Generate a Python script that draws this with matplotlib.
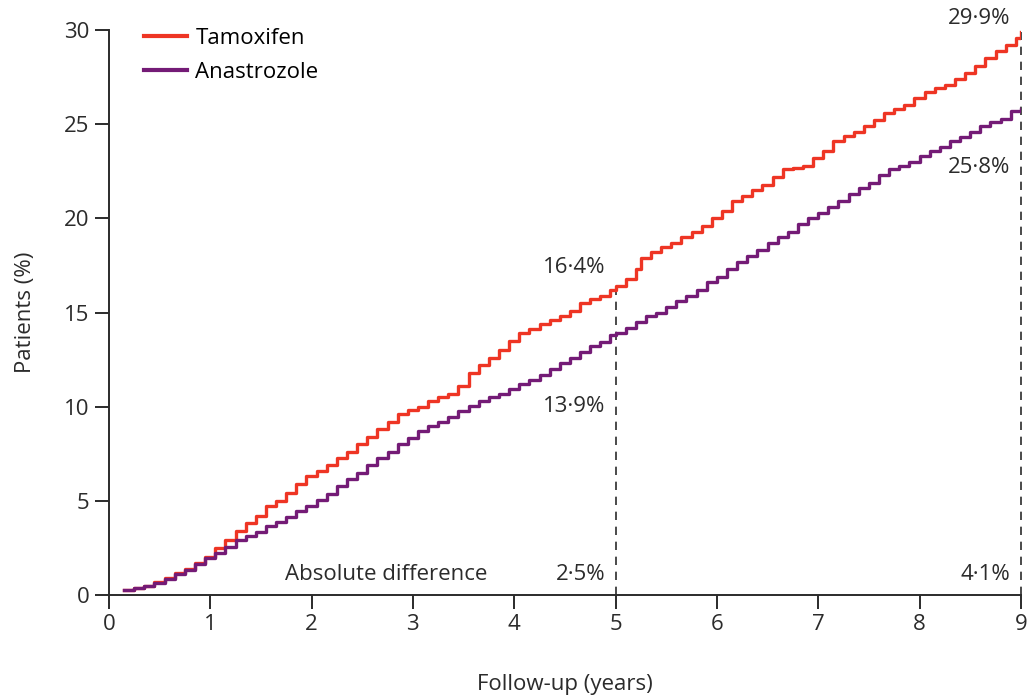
import numpy as np
import matplotlib.pyplot as plt

plt.rcParams['font.family'] = ['Open Sans', 'DejaVu Sans']

# cumulative incidence (%) by follow-up year, read at each event time
tam_years = [0.15, 0.25, 0.35, 0.45, 0.55, 0.65, 0.75, 0.85, 0.95, 1.05,
             1.15, 1.25, 1.35, 1.45, 1.55, 1.65, 1.75, 1.85, 1.95, 2.05,
             2.15, 2.25, 2.35, 2.45, 2.55, 2.65, 2.75, 2.85, 2.95, 3.05,
             3.15, 3.25, 3.35, 3.45, 3.55, 3.65, 3.75, 3.85, 3.95, 4.05,
             4.15, 4.25, 4.35, 4.45, 4.55, 4.65, 4.75, 4.85, 4.95, 5.0,
             5.1, 5.2, 5.25, 5.35, 5.45, 5.55, 5.65, 5.75, 5.85, 5.95,
             6.05, 6.15, 6.25, 6.35, 6.45, 6.55, 6.65, 6.75, 6.85, 6.95,
             7.05, 7.15, 7.25, 7.35, 7.45, 7.55, 7.65, 7.75, 7.85, 7.95,
             8.05, 8.15, 8.25, 8.35, 8.45, 8.55, 8.65, 8.75, 8.85, 8.95, 9.0]
tam_pct = [0.25, 0.35, 0.5, 0.7, 0.9, 1.15, 1.4, 1.7, 2.0, 2.5,
           2.9, 3.4, 3.8, 4.2, 4.7, 5.0, 5.4, 5.9, 6.3, 6.6,
           6.9, 7.3, 7.6, 8.0, 8.4, 8.8, 9.2, 9.6, 9.8, 10.0,
           10.3, 10.5, 10.7, 11.1, 11.8, 12.2, 12.6, 13.0, 13.5, 13.9,
           14.1, 14.4, 14.6, 14.8, 15.1, 15.5, 15.7, 15.9, 16.2, 16.4,
           16.8, 17.3, 17.9, 18.2, 18.5, 18.7, 19.0, 19.3, 19.6, 20.0,
           20.4, 20.9, 21.2, 21.5, 21.8, 22.2, 22.6, 22.7, 22.8, 23.2,
           23.6, 24.1, 24.4, 24.6, 24.9, 25.2, 25.6, 25.8, 26.0, 26.4,
           26.7, 26.9, 27.1, 27.4, 27.7, 28.1, 28.5, 28.9, 29.2, 29.6, 29.9]

ana_years = [0.15, 0.25, 0.35, 0.45, 0.55, 0.65, 0.75, 0.85, 0.95, 1.05,
             1.15, 1.25, 1.35, 1.45, 1.55, 1.65, 1.75, 1.85, 1.95, 2.05,
             2.15, 2.25, 2.35, 2.45, 2.55, 2.65, 2.75, 2.85, 2.95, 3.05,
             3.15, 3.25, 3.35, 3.45, 3.55, 3.65, 3.75, 3.85, 3.95, 4.05,
             4.15, 4.25, 4.35, 4.45, 4.55, 4.65, 4.75, 4.85, 4.95, 5.0,
             5.1, 5.2, 5.3, 5.4, 5.5, 5.6, 5.7, 5.8, 5.9, 6.0,
             6.1, 6.2, 6.3, 6.4, 6.5, 6.6, 6.7, 6.8, 6.9, 7.0,
             7.1, 7.2, 7.3, 7.4, 7.5, 7.6, 7.7, 7.8, 7.9, 8.0,
             8.1, 8.2, 8.3, 8.4, 8.5, 8.6, 8.7, 8.8, 8.9, 9.0]
ana_pct = [0.25, 0.35, 0.5, 0.65, 0.85, 1.1, 1.35, 1.65, 1.95, 2.25,
           2.55, 2.9, 3.15, 3.35, 3.65, 3.9, 4.15, 4.45, 4.75, 5.05,
           5.35, 5.8, 6.15, 6.5, 6.9, 7.25, 7.6, 8.0, 8.35, 8.7,
           8.95, 9.2, 9.45, 9.75, 10.05, 10.3, 10.5, 10.7, 10.95, 11.2,
           11.4, 11.7, 12.0, 12.3, 12.6, 12.9, 13.2, 13.45, 13.8, 13.9,
           14.2, 14.5, 14.8, 15.0, 15.3, 15.6, 15.9, 16.2, 16.6, 16.9,
           17.3, 17.7, 18.0, 18.3, 18.7, 19.0, 19.3, 19.7, 20.0, 20.3,
           20.6, 20.9, 21.3, 21.6, 21.9, 22.3, 22.6, 22.8, 23.0, 23.3,
           23.6, 23.8, 24.1, 24.3, 24.6, 24.9, 25.1, 25.3, 25.7, 25.8]

# values quoted at 5 and 9 years
mark_years = [5, 9]
mark_tam = [16.4, 29.9]
mark_ana = [13.9, 25.8]
mark_diff = [2.5, 4.1]

RED = '#ee3524'
PURPLE = '#741b76'
INK = '#2b2b2b'

def pct(v):
    return f'{v:.1f}'.replace('.', '\u00b7') + '%'

fig = plt.figure(figsize=(10.27, 7.0), dpi=100)
ax = fig.add_axes([0.106, 0.15, 0.888, 0.807])

ax.step(tam_years, tam_pct, where='post', color=RED, lw=2.4, label='Tamoxifen', zorder=3)
ax.step(ana_years, ana_pct, where='post', color=PURPLE, lw=2.4, label='Anastrozole', zorder=3)

for yr, top in zip(mark_years, mark_tam):
    ax.plot([yr, yr], [0, top], color=INK, lw=1.2, ls=(0, (5, 4)), zorder=2, clip_on=False)

fs = 16
# label offsets (in %) above the tamoxifen value and below the anastrozole value
tam_off = [1.0, 0.7]
ana_off = [3.9, 3.1]
for yr, a, b, d, ao, bo in zip(mark_years, mark_tam, mark_ana, mark_diff, tam_off, ana_off):
    ax.text(yr - 0.1, a + ao, pct(a), ha='right', va='center', fontsize=fs, color=INK)
    ax.text(yr - 0.1, b - bo, pct(b), ha='right', va='center', fontsize=fs, color=INK)
    ax.text(yr - 0.1, 1.1, pct(d), ha='right', va='center', fontsize=fs, color=INK)
ax.text(1.74, 1.1, 'Absolute difference', ha='left', va='center', fontsize=fs, color=INK)

ax.set_xlim(0, 9)
ax.set_ylim(0, 30)
ax.set_xticks(range(0, 10))
ax.set_yticks(range(0, 31, 5))
ax.spines['top'].set_visible(False)
ax.spines['right'].set_visible(False)
for s in ('left', 'bottom'):
    ax.spines[s].set_linewidth(1.4)
    ax.spines[s].set_color(INK)
ax.tick_params(direction='out', length=10, width=1.4, colors=INK, labelsize=fs, pad=4)

ax.set_xlabel('Follow-up (years)', fontsize=fs, color=INK, labelpad=28)
ax.set_ylabel('Patients (%)', fontsize=fs, color=INK, labelpad=20)

leg = ax.legend(loc='upper left', bbox_to_anchor=(0.017, 1.04), frameon=False,
                fontsize=fs, handlelength=1.9, handletextpad=0.4, labelspacing=0.6)
for line in leg.get_lines():
    line.set_linewidth(3)

fig.savefig('out.png', dpi=100)
